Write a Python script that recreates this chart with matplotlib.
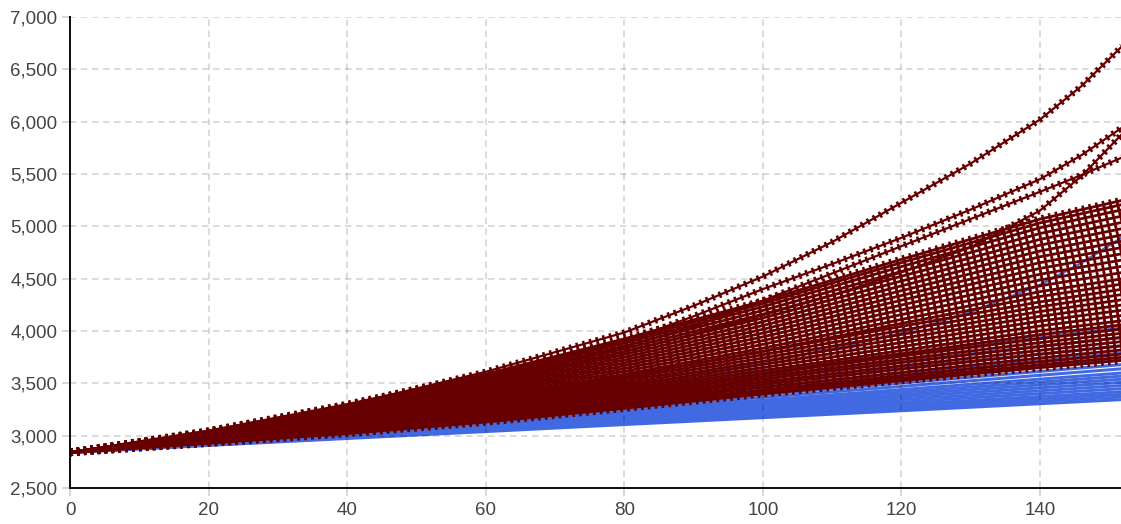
import matplotlib
matplotlib.use("Agg")
import matplotlib.pyplot as plt
from matplotlib.ticker import FuncFormatter

plt.rcParams['font.family'] = ['Liberation Sans', 'DejaVu Sans']
plt.rcParams['lines.scale_dashes'] = False

# ---------------- data ----------------
X_KNOTS = [0, 20, 40, 60, 80, 100, 120, 140, 152]
X_KNOTS_FINE = [0, 20, 40, 60, 80, 90, 100, 110, 120, 130, 140, 146, 152]

X_TICKS = [0, 20, 40, 60, 80, 100, 120, 140]
Y_TICKS = [2500, 3000, 3500, 4000, 4500, 5000, 5500, 6000, 6500, 7000]

# blue series (no markers), drawn underneath
BLUE_SERIES = [
    [2840, 2907, 2973, 3039, 3106, 3172, 3238, 3305, 3345],
    [2840, 2910, 2979, 3049, 3119, 3189, 3258, 3328, 3370],
    [2840, 2913, 2986, 3059, 3132, 3205, 3278, 3351, 3395],
    [2840, 2917, 2993, 3069, 3145, 3222, 3298, 3374, 3420],
    [2840, 2921, 3000, 3081, 3161, 3241, 3321, 3402, 3450],
    [2840, 2924, 3008, 3093, 3177, 3261, 3345, 3429, 3480],
    [2840, 2928, 3016, 3105, 3192, 3281, 3369, 3457, 3510],
    [2840, 2932, 3024, 3117, 3208, 3301, 3392, 3485, 3540],
    [2840, 2936, 3032, 3128, 3224, 3320, 3416, 3512, 3570],
    [2840, 2940, 3040, 3140, 3240, 3340, 3440, 3540, 3600],
    [2840, 2946, 3050, 3156, 3261, 3366, 3471, 3577, 3640],
    [2840, 2951, 3061, 3172, 3282, 3393, 3503, 3614, 3680],
    [2840, 2957, 3074, 3192, 3308, 3426, 3542, 3660, 3730],
    [2840, 2965, 3090, 3215, 3340, 3465, 3590, 3715, 3790],
    [2840, 2975, 3108, 3243, 3377, 3511, 3645, 3779, 3860],
    [2840, 2985, 3129, 3275, 3419, 3564, 3708, 3853, 3940],
    [2840, 2997, 3153, 3310, 3466, 3623, 3779, 3936, 4030],
]
# one blue series that rises steeply late (fine knots)
BLUE_STEEP = [2840, 2960, 3100, 3270, 3470, 3580, 3700, 3830, 3980, 4180, 4440, 4650, 4900]

# dark red series (with markers), the dense band
RED_BAND = [
    [2840, 3045, 3298, 3587, 3925, 4286, 4684, 5069, 5250],
    [2840, 3041, 3290, 3575, 3907, 4262, 4653, 5032, 5210],
    [2840, 3037, 3281, 3559, 3884, 4232, 4615, 4986, 5160],
    [2840, 3032, 3269, 3541, 3857, 4196, 4569, 4931, 5100],
    [2840, 3027, 3258, 3522, 3830, 4160, 4523, 4875, 5040],
    [2840, 3022, 3247, 3503, 3803, 4124, 4477, 4820, 4980],
    [2840, 3017, 3235, 3485, 3776, 4088, 4431, 4764, 4920],
    [2840, 3012, 3224, 3466, 3749, 4052, 4385, 4709, 4860],
    [2840, 3007, 3212, 3448, 3722, 4016, 4339, 4653, 4800],
    [2840, 3002, 3201, 3429, 3695, 3980, 4294, 4598, 4740],
    [2840, 2996, 3190, 3410, 3668, 3944, 4248, 4542, 4680],
    [2840, 2991, 3178, 3392, 3641, 3908, 4202, 4487, 4620],
    [2840, 2986, 3167, 3373, 3614, 3872, 4156, 4431, 4560],
    [2840, 2981, 3155, 3355, 3587, 3836, 4110, 4376, 4500],
    [2840, 2977, 3146, 3339, 3565, 3806, 4072, 4329, 4450],
    [2840, 2984, 3147, 3339, 3565, 3804, 4044, 4278, 4400],
    [2840, 2979, 3137, 3323, 3542, 3773, 4006, 4232, 4350],
    [2840, 2974, 3128, 3307, 3519, 3742, 3967, 4186, 4300],
    [2840, 2970, 3118, 3291, 3496, 3711, 3929, 4140, 4250],
    [2840, 2965, 3108, 3275, 3472, 3680, 3890, 4094, 4200],
    [2840, 2961, 3098, 3259, 3449, 3650, 3851, 4048, 4150],
    [2840, 2956, 3088, 3243, 3426, 3619, 3813, 4002, 4100],
    [2840, 2952, 3080, 3230, 3407, 3594, 3782, 3965, 4060],
    [2840, 2958, 3082, 3229, 3406, 3589, 3760, 3926, 4020],
    [2840, 2954, 3074, 3216, 3387, 3564, 3729, 3889, 3980],
    [2840, 2950, 3066, 3203, 3368, 3539, 3698, 3852, 3940],
    [2840, 2946, 3057, 3190, 3349, 3513, 3667, 3815, 3900],
    [2840, 2942, 3049, 3177, 3330, 3488, 3636, 3778, 3860],
    [2840, 2938, 3041, 3163, 3310, 3462, 3604, 3742, 3820],
    [2840, 2934, 3033, 3150, 3291, 3437, 3573, 3705, 3780],
    [2840, 2931, 3027, 3140, 3277, 3418, 3550, 3677, 3750],
    [2840, 2928, 3020, 3130, 3262, 3399, 3526, 3650, 3720],
]

# dark red series that break away from the band (fine knots)
RED_TOP = [2840, 3045, 3290, 3610, 3985, 4240, 4520, 4850, 5225, 5600, 6020, 6340, 6730]
RED_B = [2840, 3040, 3275, 3560, 3900, 4140, 4400, 4640, 4890, 5160, 5450, 5680, 5950]
RED_C = [2840, 3035, 3265, 3530, 3850, 4040, 4290, 4550, 4810, 5070, 5330, 5490, 5662]
RED_D = [2840, 3030, 3250, 3500, 3800, 3970, 4150, 4340, 4560, 4800, 5150, 5480, 5892]

# ---------------- style ----------------
BLUE = '#4169E1'
RED = '#660000'
PX = 0.72  # points per pixel at dpi 100

fig = plt.figure(figsize=(11.21, 5.24), dpi=100)
ax = fig.add_axes([70 / 1121, 36 / 524, 1051 / 1121, 471 / 524])

for ys in BLUE_SERIES:
    ax.plot(X_KNOTS, ys, color=BLUE, lw=3.0 * PX, zorder=2)
ax.plot(X_KNOTS_FINE, BLUE_STEEP, color=BLUE, lw=2.5 * PX, zorder=2)


def red_line(xs, ys, lw=2.8, mk=7.5):
    ax.plot(xs, ys, color=RED, lw=lw * PX, zorder=3)
    # marker-like ticks along the line
    ax.plot(xs, ys, color=RED, lw=mk * PX, zorder=3,
            dashes=(2.6 * PX, 4.3 * PX), dash_capstyle='butt')


for ys in RED_BAND:
    red_line(X_KNOTS, ys)
for ys in [RED_D, RED_C, RED_B, RED_TOP]:
    red_line(X_KNOTS_FINE, ys, lw=2.2, mk=6.5)

ax.set_xlim(0, 151.7)
ax.set_ylim(2500, 7000)
ax.set_xticks(X_TICKS)
ax.set_yticks(Y_TICKS)
ax.yaxis.set_major_formatter(FuncFormatter(lambda v, p: f'{v:,.0f}'))

ax.grid(True, color='#000000', alpha=0.18, lw=1.5 * PX,
        dashes=(6.5 * PX, 4.5 * PX), zorder=4)
ax.set_axisbelow(False)

for s in ['top', 'right']:
    ax.spines[s].set_visible(False)
for s in ['left', 'bottom']:
    ax.spines[s].set_color('#111111')
    ax.spines[s].set_linewidth(2.0 * PX)
    ax.spines[s].set_zorder(5)

ax.tick_params(axis='both', colors='#cccccc', length=6, width=1.5 * PX,
               labelcolor='#444444', labelsize=13.5)
ax.tick_params(axis='y', pad=3)
ax.tick_params(axis='x', pad=4)

fig.savefig('out.png', dpi=100)
